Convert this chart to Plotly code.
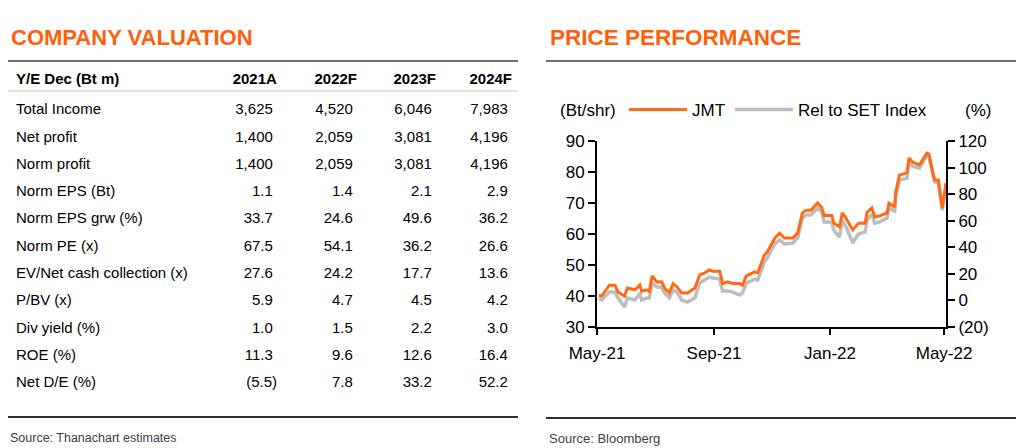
import plotly.graph_objects as go

# the page puts the figure 8px in from the top-left corner, so the figure is
# drawn 8px smaller and positions below are given in screen pixels
OX, OY = 8, 8
W, H = 1016, 440
FONT = "Liberation Sans, Arial, sans-serif"
ORANGE = "#FF6A13"
TITLE_ORANGE = "#FF5F0A"
GREY = "#BDBDBD"

# company valuation table
row_labels = ["Total Income", "Net profit", "Norm profit", "Norm EPS (Bt)",
              "Norm EPS grw (%)", "Norm PE (x)", "EV/Net cash collection (x)",
              "P/BV (x)", "Div yield (%)", "ROE (%)", "Net D/E (%)"]
years = ["2021A", "2022F", "2023F", "2024F"]
y2021 = [3625, 1400, 1400, 1.1, 33.7, 67.5, 27.6, 5.9, 1.0, 11.3, -5.5]
y2022 = [4520, 2059, 2059, 1.4, 24.6, 54.1, 24.2, 4.7, 1.5, 9.6, 7.8]
y2023 = [6046, 3081, 3081, 2.1, 49.6, 36.2, 17.7, 4.5, 2.2, 12.6, 33.2]
y2024 = [7983, 4196, 4196, 2.9, 36.2, 26.6, 13.6, 4.2, 3.0, 16.4, 52.2]
n_thousands = 3  # first rows shown as whole numbers

# price performance
dates = ["2021-05-03", "2021-05-06", "2021-05-14", "2021-05-20", "2021-05-23",
         "2021-05-30", "2021-06-02", "2021-06-10", "2021-06-15", "2021-06-17",
         "2021-06-22", "2021-06-25", "2021-06-28", "2021-07-03", "2021-07-08",
         "2021-07-11", "2021-07-16", "2021-07-20", "2021-07-24", "2021-07-29",
         "2021-08-04", "2021-08-12", "2021-08-17", "2021-08-22", "2021-08-27",
         "2021-08-31", "2021-09-07", "2021-09-10", "2021-09-15", "2021-09-21",
         "2021-09-28", "2021-10-01", "2021-10-05", "2021-10-14", "2021-10-17",
         "2021-10-21", "2021-10-24", "2021-10-27", "2021-11-01", "2021-11-04",
         "2021-11-09", "2021-11-14", "2021-11-23", "2021-11-28", "2021-12-03",
         "2021-12-07", "2021-12-12", "2021-12-19", "2021-12-23", "2021-12-26",
         "2022-01-03", "2022-01-05", "2022-01-11", "2022-01-14", "2022-01-18",
         "2022-01-25", "2022-01-31", "2022-02-07", "2022-02-09", "2022-02-14",
         "2022-02-17", "2022-02-22", "2022-03-02", "2022-03-04", "2022-03-10",
         "2022-03-11", "2022-03-15", "2022-03-23", "2022-03-25", "2022-03-29",
         "2022-04-05", "2022-04-13", "2022-04-15", "2022-04-21", "2022-04-25",
         "2022-04-29", "2022-05-03"]
jmt = [40.3, 40.0, 43.5, 43.5, 41.3, 40.0, 42.6, 42.0, 43.5, 41.5,
       42.0, 41.5, 46.5, 44.5, 44.6, 42.6, 41.0, 44.0, 43.0, 41.0,
       41.0, 42.6, 46.8, 47.4, 48.4, 48.0, 48.0, 44.0, 44.6, 44.0,
       44.0, 43.5, 46.5, 47.8, 47.5, 50.6, 53.2, 54.2, 57.0, 58.7,
       60.3, 58.7, 58.7, 60.3, 66.8, 67.7, 67.7, 70.0, 68.7, 66.0,
       66.0, 63.5, 62.3, 66.8, 65.0, 61.3, 63.5, 63.5, 67.0, 68.4,
       65.5, 65.8, 66.8, 70.0, 68.7, 73.2, 79.0, 79.7, 84.5, 83.2,
       82.3, 86.1, 85.8, 77.4, 77.4, 68.4, 76.4]
rel_set = [1.8, 0.3, 6.3, 6.3, 1.8, -5.0, 1.8, 0.3, 5.6, 0.3,
           1.8, 1.8, 13.1, 10.1, 10.1, 5.6, 1.8, 7.8, 6.3, 0.3,
           -1.2, 1.8, 13.1, 15.4, 17.6, 16.9, 16.1, 7.1, 7.1, 6.3,
           4.1, 5.6, 13.1, 16.1, 15.4, 22.9, 28.9, 31.9, 37.9, 42.5,
           45.5, 42.5, 43.2, 47.0, 62.0, 64.3, 64.3, 69.5, 66.5, 59.0,
           59.0, 53.0, 47.7, 59.8, 55.3, 43.2, 50.0, 51.5, 60.5, 65.0,
           58.2, 59.0, 62.0, 69.5, 67.3, 77.1, 90.6, 92.1, 104.1, 101.1,
           99.6, 109.4, 107.9, 89.2, 88.4, 68.0, 86.1]
pct_ticks = [-20, 0, 20, 40, 60, 80, 100, 120]


def fmt(v, i):
    s = f"{abs(v):,.0f}" if i < n_thousands else f"{abs(v):.1f}"
    return f"({s})" if v < 0 else s + "\u00a0"


def px(x):
    return (x - OX) / W


def py(y):
    return 1 - (y - OY) / H


cols = [[fmt(v, i) for i, v in enumerate(c)] for c in (y2021, y2022, y2023, y2024)]

fig = go.Figure()

fig.add_trace(go.Table(
    domain=dict(x=[px(8), px(520)], y=[0, py(62)]),
    columnwidth=[197, 80, 80, 79, 76],
    header=dict(values=["<b>Y/E Dec (Bt m)</b>"] + [f"<b>{y}</b>" for y in years],
                align=["left", "right", "right", "right", "right"],
                font=dict(family=FONT, size=15, color="black"),
                fill_color="white", line_color="white", height=33),
    cells=dict(values=[row_labels] + cols,
               align=["left", "right", "right", "right", "right"],
               font=dict(family=FONT, size=15, color="black"),
               fill_color="white", line_color="white", height=27.3),
))

fig.add_trace(go.Scatter(x=dates, y=rel_set, mode="lines", name="Rel to SET Index",
                         line=dict(color=GREY, width=3.5), yaxis="y", legendrank=2))
fig.add_trace(go.Scatter(x=dates, y=jmt, mode="lines", name="JMT",
                         line=dict(color=ORANGE, width=3), yaxis="y2", legendrank=1))

axis_common = dict(showgrid=False, zeroline=False, showline=True, linecolor="black",
                   linewidth=2, ticks="outside", tickwidth=2, tickcolor="black",
                   tickfont=dict(family=FONT, size=17, color="black"))

fig.update_layout(
    width=W, height=H, margin=dict(l=0, r=0, t=0, b=0, autoexpand=False),
    paper_bgcolor="white", plot_bgcolor="white",
    font=dict(family=FONT, color="black"),
    xaxis=dict(domain=[px(597), px(946)], type="date",
               range=["2021-05-01", "2022-05-03"], tick0="2021-05-01", dtick="M4",
               tickformat="%b-%y", ticklen=6, ticklabelstandoff=4, anchor="y",
               **axis_common),
    yaxis=dict(domain=[py(327), py(141)], range=[-20, 120], side="right",
               tickvals=pct_ticks,
               ticktext=[f"({-t})" if t < 0 else str(t) for t in pct_ticks],
               ticklen=7, anchor="x", **axis_common),
    yaxis2=dict(range=[30, 90], dtick=10, side="left", overlaying="y",
                ticklen=7, anchor="x", **axis_common),
    showlegend=True,
    legend=dict(orientation="h", x=px(624), y=py(110), xanchor="left", yanchor="middle",
                font=dict(family=FONT, size=17, color="black"),
                bgcolor="rgba(0,0,0,0)", itemwidth=58),
)

line_dark = dict(color="#404040", width=1.5)
shapes = [
    dict(x0=px(6), x1=px(518), y0=py(61), y1=py(61), line=line_dark),
    dict(x0=px(6), x1=px(518), y0=py(91), y1=py(91), line=dict(color="#D9D9D9", width=1.5)),
    dict(x0=px(6), x1=px(518), y0=py(417), y1=py(417), line=dict(color="#303030", width=2)),
    dict(x0=px(546), x1=px(1016), y0=py(61), y1=py(61), line=line_dark),
    dict(x0=px(546), x1=px(1016), y0=py(418), y1=py(418), line=dict(color="#303030", width=2)),
]
for s in shapes:
    fig.add_shape(type="line", xref="paper", yref="paper", layer="above", **s)

notes = [
    (px(9), py(37), "<b>COMPANY VALUATION</b>", 22, TITLE_ORANGE, "left"),
    (px(548), py(37), "<b>PRICE PERFORMANCE</b>", 22.5, TITLE_ORANGE, "left"),
    (px(8), py(438), "Source: Thanachart estimates", 12.5, "#404040", "left"),
    (px(547), py(438), "Source: Bloomberg", 13, "#404040", "left"),
    (px(588), py(110), "(Bt/shr)", 17, "black", "center"),
    (px(978), py(110), "(%)", 17, "black", "center"),
]
for x, y, t, size, color, anchor in notes:
    fig.add_annotation(x=x, y=y, xref="paper", yref="paper", text=t, showarrow=False,
                       xanchor=anchor, yanchor="middle",
                       font=dict(family=FONT, size=size, color=color))

fig.write_html("out.html")
